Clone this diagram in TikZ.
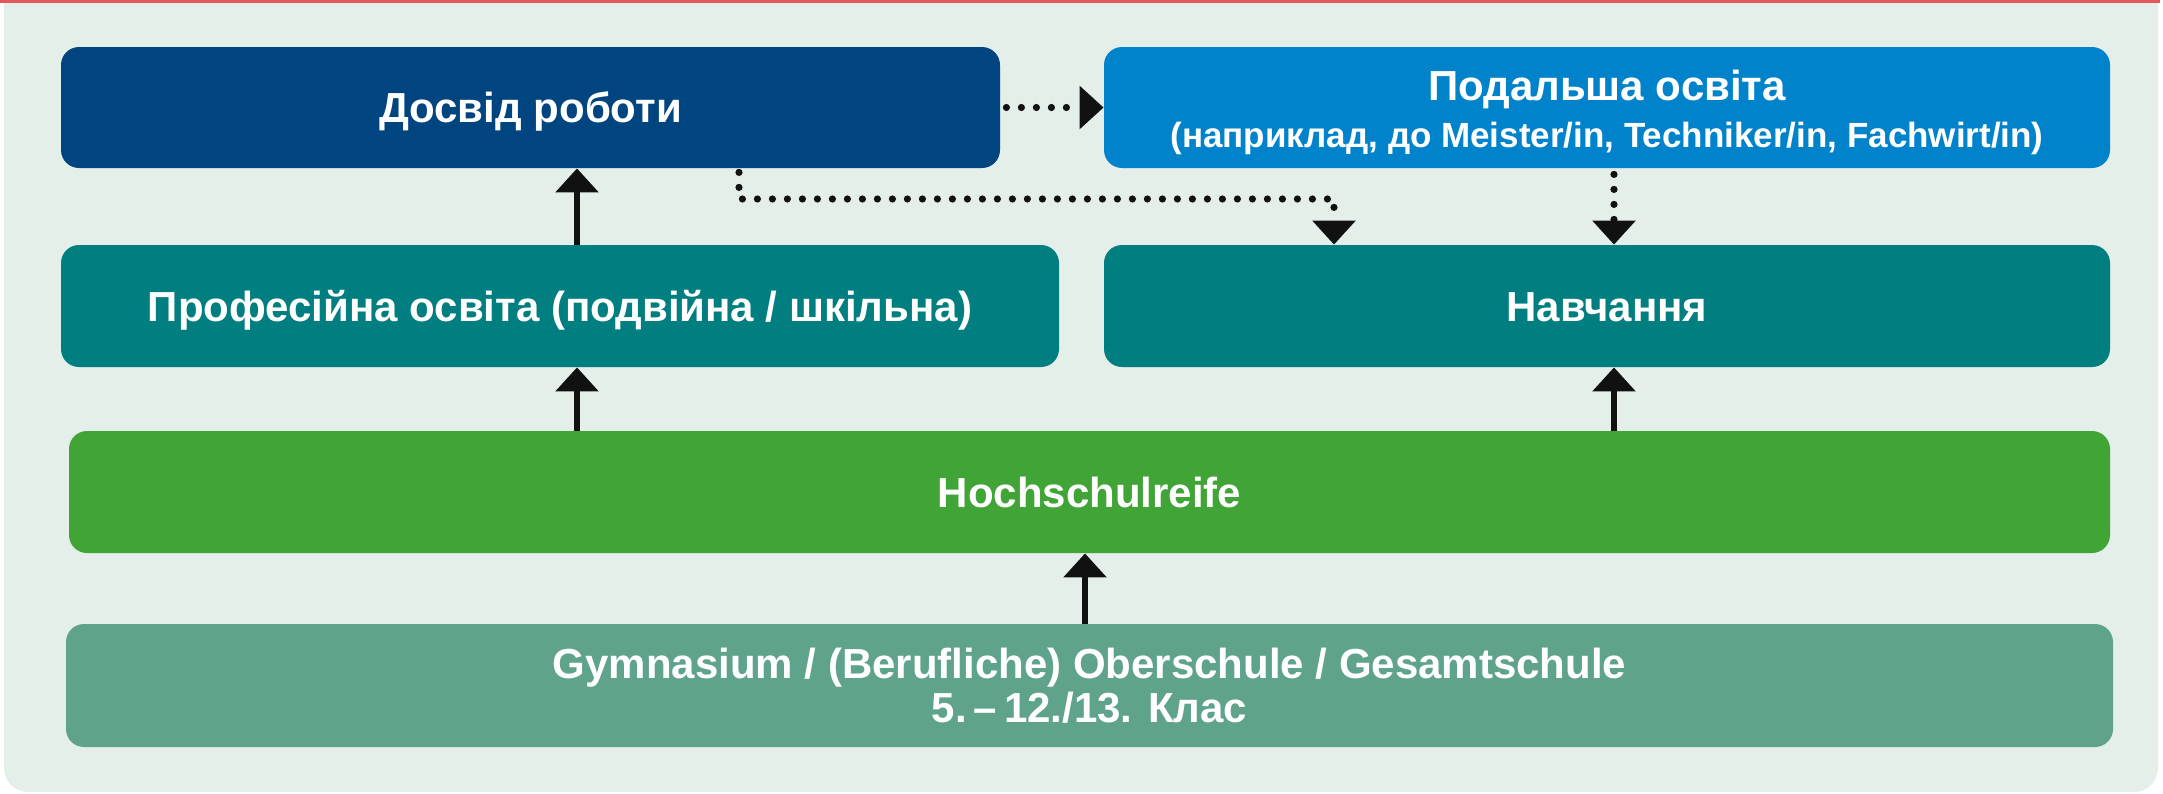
\documentclass[tikz,border=0pt]{standalone}
\usepackage{fontspec}
\setmainfont{Liberation Sans}
\usetikzlibrary{arrows.meta}
\definecolor{panelc}{HTML}{E4EFEA}
\definecolor{redline}{HTML}{E5585D}
\definecolor{dblue}{HTML}{00457F}
\definecolor{lblue}{HTML}{0083CB}
\definecolor{tealc}{HTML}{007E80}
\definecolor{greenc}{HTML}{41A436}
\definecolor{gymc}{HTML}{5FA48A}
\definecolor{arrowc}{HTML}{111111}
\begin{document}
\begin{tikzpicture}[x=0.5pt,y=-0.5pt,
  box/.style={rounded corners=9pt, inner sep=0pt, text=white, align=center,
    font=\bfseries\fontsize{21}{23.5}\selectfont},
  oneline/.style={text height=15.3pt, text depth=0pt},
  solidarr/.style={draw=arrowc, line width=3pt, -{Triangle[length=12pt,width=21pt]}},
  dotarr/.style={draw=arrowc, line width=3.6pt, line cap=round, dash pattern=on 0pt off 7.5pt,
    -{Triangle[length=12pt,width=21pt]}}]
\useasboundingbox (0,0) rectangle (2163,793);
% panel
\begin{scope}
\clip (0,0) rectangle (2163,793);
\fill[panelc, rounded corners=12pt] (4,-40) rectangle (2158,792);
\end{scope}
\fill[redline] (0,0) rectangle (2160,2.5);
% boxes
\node[box, oneline, fill=dblue, minimum width=469.5pt, minimum height=60.5pt] (dosvid) at (530.5,107.5) {Досвід роботи};
\node[box, fill=lblue, minimum width=503pt, minimum height=60.5pt] (podal) at (1607,107.5)
  {\rule{0pt}{20.5pt}Подальша освіта\\{\fontsize{17.5}{23.5}\selectfont (наприклад, до Meister/in, Techniker/in, Fachwirt/in)}};
\node[box, oneline, fill=tealc, minimum width=499pt, minimum height=61pt] (prof) at (560,306) {Професійна освіта (подвійна / шкільна)};
\node[box, oneline, fill=tealc, minimum width=503pt, minimum height=61pt] (navch) at (1607,306) {Навчання};
\node[box, oneline, fill=greenc, minimum width=1020.5pt, minimum height=61pt] (hoch) at (1089.5,492) {Hochschulreife};
\node[box, fill=gymc, minimum width=1023.5pt, minimum height=61.5pt] (gym) at (1089.5,685.5)
  {Gymnasium / (Berufliche) Oberschule / Gesamtschule\\[-1.5pt]5.\,–\,12./13. Клас};
% helper coordinates
\coordinate (xa) at (577,0);
\coordinate (xb) at (1614,0);
\coordinate (xc) at (1085,0);
\coordinate (xd) at (739,0);
\coordinate (xe) at (1334,0);
\coordinate (ya) at (0,199);
% solid arrows
\draw[solidarr] (prof.north -| xa) -- (dosvid.south -| xa);
\draw[solidarr] (hoch.north -| xa) -- (prof.south -| xa);
\draw[solidarr] (hoch.north -| xb) -- (navch.south -| xb);
\draw[solidarr] (gym.north -| xc) -- (hoch.south -| xc);
% dotted arrows
\draw[dotarr] ([xshift=3pt]dosvid.east) -- (podal.west);
\draw[dotarr] ([yshift=-2pt]dosvid.south -| xd) -- (xd |- ya) -- (xe |- ya) -- (navch.north -| xe);
\draw[dotarr] ([yshift=-3pt]podal.south -| xb) -- (navch.north -| xb);
\end{tikzpicture}
\end{document}
